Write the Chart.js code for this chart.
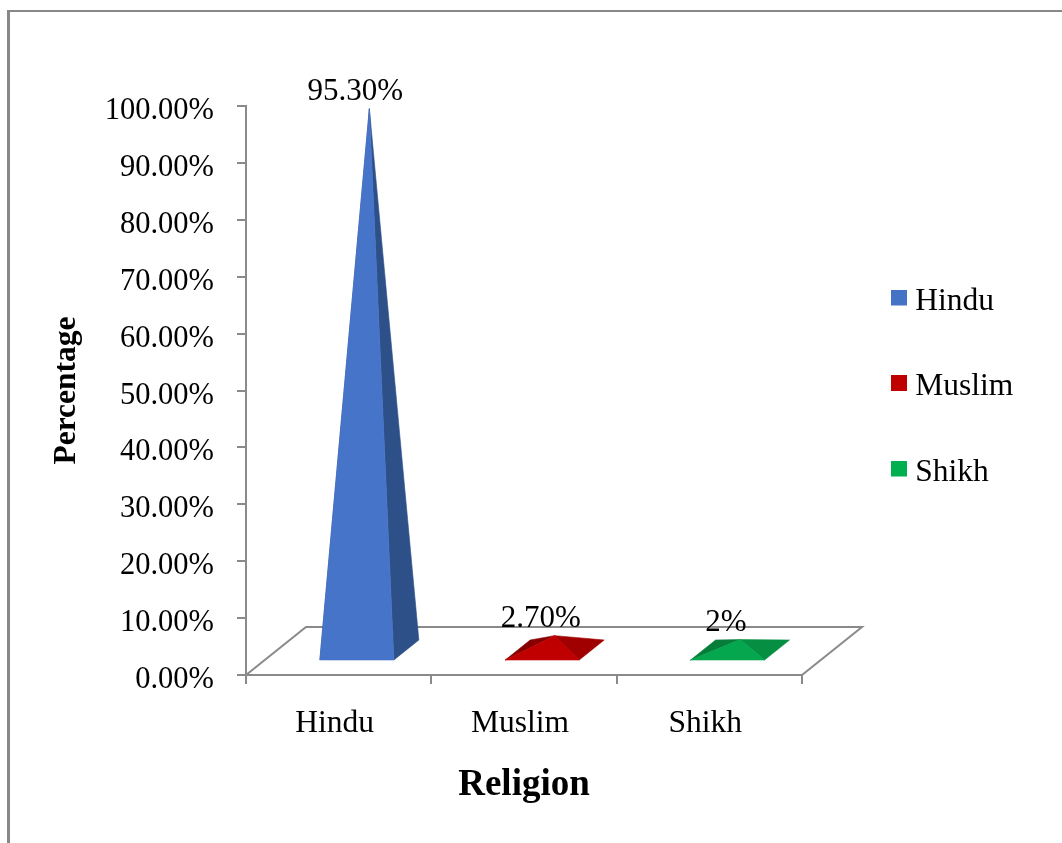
<!DOCTYPE html>
<html>
<head>
<meta charset="utf-8">
<title>Religion</title>
<script src="https://cdn.jsdelivr.net/npm/chart.js@4/dist/chart.umd.min.js"></script>
<style>
    html, body { margin: 0; padding: 0; background: #fff; }
    canvas { display: block; }
</style>
</head>
<body>
<canvas id="religionChart" width="1062" height="843"></canvas>
<script>
const categories = ["Hindu", "Muslim", "Shikh"];
const percentages = [95.3, 2.7, 2];
const valueLabels = ["95.30%", "2.70%", "2%"];

const frontColors = ["#4674C9", "#C00000", "#04A64E"];
const sideColors = ["#2E5088", "#A00000", "#068F42"];
const leftColors = ["#2E5088", "#860000", "#067E3A"];
const legendColors = ["#4472C4", "#C00000", "#00B050"];

const axisColor = "#8A8A8A";
const fontName = "'Liberation Serif'";

// the floor and the pyramids sit behind the axes, shifted like the 3D view
const floorDepth = { x: 60, y: -48 };
const baseDepth = { x: 25, y: -20 };
const shiftX = 30.7;
const shiftY = -24;

function fillFace(ctx, points, color) {
    ctx.beginPath();
    ctx.moveTo(points[0][0], points[0][1]);
    ctx.lineTo(points[1][0], points[1][1]);
    ctx.lineTo(points[2][0], points[2][1]);
    ctx.closePath();
    ctx.fillStyle = color;
    ctx.fill();
    // thin stroke closes the light seam between faces
    ctx.strokeStyle = color;
    ctx.lineWidth = 0.6;
    ctx.stroke();
}

// legend square sits a bit above the middle of its text
function makeSwatch(color) {
    const swatch = document.createElement("canvas");
    swatch.width = 16;
    swatch.height = 24;
    const swatchCtx = swatch.getContext("2d");
    swatchCtx.fillStyle = color;
    swatchCtx.fillRect(0, 0, 16, 16);
    return swatch;
}

const pyramidPlugin = {
    id: "pyramids",
    afterLayout(chart) {
        // keep the legend out of the layout, only place it
        const legend = chart.legend;
        legend.left = 898.5 - legend.options.labels.padding;
        legend.right = 1062;
        legend.top = 132;
        legend.bottom = 642;
    },
    beforeDraw(chart) {
        const ctx = chart.ctx;
        ctx.save();
        ctx.fillStyle = "#fff";
        ctx.fillRect(0, 0, chart.width, chart.height);
        // outer frame
        ctx.fillStyle = "#888888";
        ctx.fillRect(7, 10, chart.width - 7, 2);
        ctx.fillRect(7, 10, 3, chart.height - 10);
        ctx.restore();
    },
    beforeDatasetsDraw(chart) {
        const ctx = chart.ctx;
        const area = chart.chartArea;
        ctx.save();

        // floor
        ctx.beginPath();
        ctx.moveTo(area.left, area.bottom);
        ctx.lineTo(area.left + floorDepth.x, area.bottom + floorDepth.y);
        ctx.lineTo(area.right + floorDepth.x, area.bottom + floorDepth.y);
        ctx.lineTo(area.right, area.bottom);
        ctx.strokeStyle = axisColor;
        ctx.lineWidth = 2;
        ctx.stroke();

        chart.getDatasetMeta(0).data.forEach((bar, i) => {
            const half = bar.width / 2;
            const cx = bar.x + shiftX;
            const cy = bar.base + shiftY;
            const tip = [cx, bar.y + shiftY];
            const frontY = cy - baseDepth.y / 2;
            const backY = cy + baseDepth.y / 2;
            const fl = [cx - half - baseDepth.x / 2, frontY];
            const fr = [cx + half - baseDepth.x / 2, frontY];
            const br = [cx + half + baseDepth.x / 2, backY];
            const bl = [cx - half + baseDepth.x / 2, backY];

            fillFace(ctx, [fl, bl, tip], leftColors[i]);
            fillFace(ctx, [fr, br, tip], sideColors[i]);
            fillFace(ctx, [fl, fr, tip], frontColors[i]);

            // value label
            ctx.fillStyle = "#000";
            ctx.font = "31px " + fontName;
            ctx.textAlign = "center";
            ctx.textBaseline = "alphabetic";
            ctx.fillText(valueLabels[i], tip[0] - 14, tip[1] - 9);
        });

        ctx.restore();
        return false; // bars stay invisible, only the pyramids are shown
    },
};

new Chart(document.getElementById("religionChart").getContext("2d"), {
    type: "bar",
    data: {
        labels: categories,
        datasets: [
            {
                label: "Percentage",
                data: percentages,
                backgroundColor: legendColors,
                barThickness: 74,
            },
        ],
    },
    plugins: [pyramidPlugin],
    options: {
        responsive: false,
        animation: false,
        layout: {
            padding: { top: 106, right: 260, bottom: 0, left: 0 },
        },
        plugins: {
            tooltip: { enabled: false },
            legend: {
                position: "chartArea",
                align: "center",
                labels: {
                    color: "#000",
                    font: { family: fontName, size: 31.5 },
                    usePointStyle: true,
                    boxWidth: 1,
                    boxHeight: 16,
                    padding: 54,
                    generateLabels: function () {
                        return categories.map(function (name, i) {
                            return {
                                text: name,
                                fillStyle: legendColors[i],
                                strokeStyle: legendColors[i],
                                lineWidth: 0,
                                pointStyle: makeSwatch(legendColors[i]),
                                hidden: false,
                                index: i,
                            };
                        });
                    },
                },
            },
        },
        scales: {
            x: {
                afterFit: function (scale) {
                    scale.height = 168;
                },
                border: { color: axisColor, width: 2 },
                grid: {
                    color: axisColor,
                    lineWidth: 2,
                    tickLength: 9,
                    drawOnChartArea: false,
                },
                ticks: {
                    color: "#000",
                    font: { family: fontName, size: 31.5 },
                    padding: 21,
                    labelOffset: -4,
                    maxRotation: 0,
                },
                title: {
                    display: true,
                    text: "Religion",
                    color: "#000",
                    font: { family: fontName, size: 37, weight: "bold" },
                    padding: { top: 0, bottom: 35 },
                },
            },
            y: {
                min: 0,
                max: 100,
                afterFit: function (scale) {
                    scale.width = 246;
                },
                border: { color: axisColor, width: 2 },
                grid: {
                    color: axisColor,
                    lineWidth: 2,
                    tickLength: 9,
                    drawOnChartArea: false,
                },
                ticks: {
                    color: "#000",
                    font: { family: fontName, size: 30.5 },
                    padding: 23,
                    stepSize: 10,
                    labelOffset: 5,
                    callback: function (value) {
                        return value.toFixed(2) + "%";
                    },
                },
                title: {
                    display: true,
                    text: "Percentage",
                    color: "#000",
                    font: { family: fontName, size: 31.5, weight: "bold" },
                    padding: { top: 48, bottom: 0 },
                },
            },
        },
    },
});
</script>
</body>
</html>
